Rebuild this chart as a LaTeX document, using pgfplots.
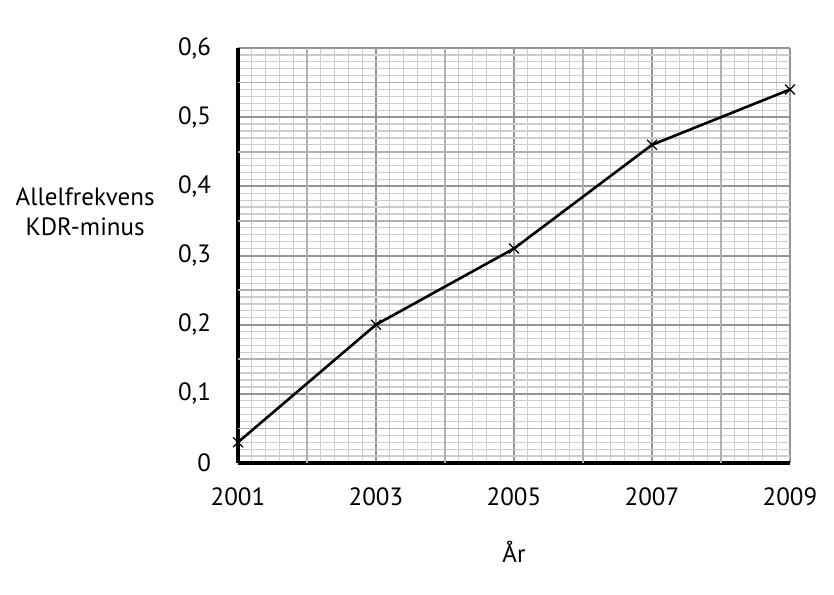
\documentclass[border=0pt]{standalone}
\usepackage{fontspec}
\setmainfont{PT Sans}
\usepackage{pgfplots}
\pgfplotsset{compat=1.18}

\definecolor{gridminor}{HTML}{CDCDCD}
\definecolor{gridmid}{HTML}{B0B0B0}
\definecolor{gridmajor}{HTML}{959595}

\begin{document}
\begin{tikzpicture}
\useasboundingbox (-119pt,-65.5pt) rectangle (298pt,231.5pt);
\begin{axis}[
    at={(0,0)}, anchor=south west,
    scale only axis,
    width=276pt, height=207.5pt,
    xmin=2001, xmax=2009,
    ymin=0, ymax=0.6,
    xtick={2001,2003,2005,2007,2009},
    ytick={0,0.1,0.2,0.3,0.4,0.5,0.6},
    minor x tick num=9,
    minor y tick num=9,
    extra x ticks={2002,2004,2006,2008},
    extra y ticks={0.05,0.15,0.25,0.35,0.45,0.55},
    extra x tick labels={},
    extra y tick labels={},
    extra tick style={grid=major, major grid style={gridmid, line width=0.8pt}},
    grid=both,
    minor grid style={gridminor, line width=0.65pt},
    major grid style={gridmajor, line width=1pt},
    major tick length=0pt, minor tick length=0pt,
    axis x line*=bottom, axis y line*=left,
    axis line style={black, line width=1.6pt, -},
    /pgf/number format/assume math mode=true,
    /pgf/number format/use comma,
    /pgf/number format/fixed,
    /pgf/number format/precision=1,
    xticklabel={\pgfmathprintnumber[1000 sep={}, fixed, precision=0]{\tick}},
    tick label style={font=\fontsize{12.5}{15}\selectfont},
    xticklabel style={yshift=-9pt},
    yticklabel style={xshift=-10pt},
    xlabel={År},
    ylabel={Allelfrekvens\\KDR-minus},
    label style={font=\fontsize{12.5}{15}\selectfont},
    xlabel style={at={(axis description cs:0.5,-0.214)}, anchor=center},
    ylabel style={rotate=-90, at={(axis description cs:-0.277,0.605)}, anchor=center, align=center},
    clip=false,
]
\addplot[black, line width=1.3pt, mark=x, mark size=3.5pt, mark options={line width=0.6pt}]
  coordinates {(2001,0.03) (2003,0.20) (2005,0.31) (2007,0.46) (2009,0.54)};
\end{axis}
\end{tikzpicture}
\end{document}
